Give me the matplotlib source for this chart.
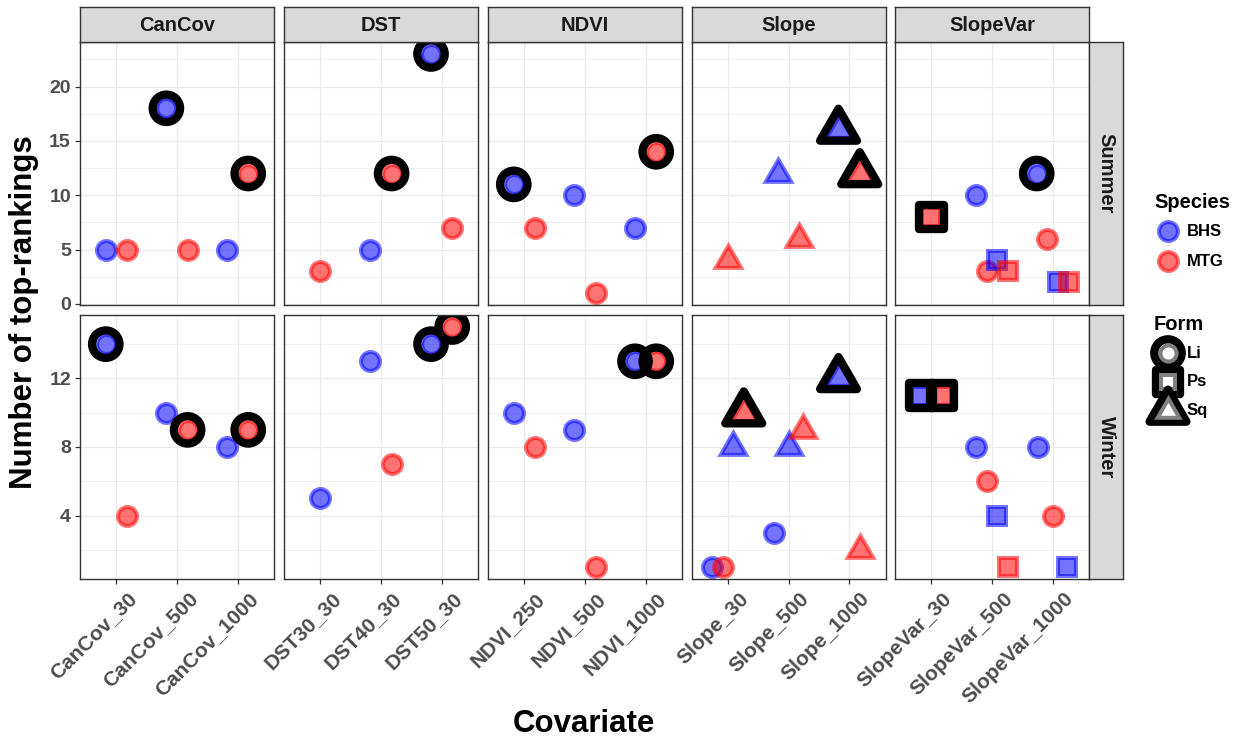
import numpy as np
import matplotlib.pyplot as plt
from matplotlib.path import Path
from matplotlib.transforms import ScaledTranslation

plt.rcParams['font.family'] = ['Liberation Sans', 'DejaVu Sans']
plt.rcParams['font.weight'] = 'bold'

# ---- data ----
groups = ['CanCov', 'DST', 'NDVI', 'Slope', 'SlopeVar']
covariates = [['CanCov_30', 'CanCov_500', 'CanCov_1000'],
              ['DST30_30', 'DST40_30', 'DST50_30'],
              ['NDVI_250', 'NDVI_500', 'NDVI_1000'],
              ['Slope_30', 'Slope_500', 'Slope_1000'],
              ['SlopeVar_30', 'SlopeVar_500', 'SlopeVar_1000']]
seasons = ['Summer', 'Winter']
species = ['BHS', 'MTG']
forms = ['Li', 'Ps', 'Sq']

summer_cov = ['CanCov_30', 'CanCov_30', 'CanCov_500', 'CanCov_500', 'CanCov_1000', 'CanCov_1000',
              'DST30_30', 'DST40_30', 'DST40_30', 'DST50_30', 'DST50_30',
              'NDVI_250', 'NDVI_250', 'NDVI_500', 'NDVI_500', 'NDVI_1000', 'NDVI_1000',
              'Slope_30', 'Slope_500', 'Slope_500', 'Slope_1000', 'Slope_1000',
              'SlopeVar_30', 'SlopeVar_500', 'SlopeVar_500', 'SlopeVar_500', 'SlopeVar_500',
              'SlopeVar_1000', 'SlopeVar_1000', 'SlopeVar_1000', 'SlopeVar_1000']
summer_sp = ['BHS', 'MTG', 'BHS', 'MTG', 'BHS', 'MTG',
             'MTG', 'BHS', 'MTG', 'BHS', 'MTG',
             'BHS', 'MTG', 'BHS', 'MTG', 'BHS', 'MTG',
             'MTG', 'BHS', 'MTG', 'BHS', 'MTG',
             'MTG', 'BHS', 'MTG', 'BHS', 'MTG',
             'BHS', 'MTG', 'BHS', 'MTG']
summer_form = ['Li'] * 17 + ['Sq'] * 5 + ['Ps', 'Li', 'Li', 'Ps', 'Ps', 'Li', 'Li', 'Ps', 'Ps']
summer_n = [5, 5, 18, 5, 5, 12,
            3, 5, 12, 23, 7,
            11, 7, 10, 1, 7, 14,
            4, 12, 6, 16, 12,
            8, 10, 3, 4, 3,
            12, 6, 2, 2]
summer_top = [0, 0, 1, 0, 0, 1,
              0, 0, 1, 1, 0,
              1, 0, 0, 0, 0, 1,
              0, 0, 0, 1, 1,
              1, 0, 0, 0, 0,
              1, 0, 0, 0]

winter_cov = ['CanCov_30', 'CanCov_30', 'CanCov_500', 'CanCov_500', 'CanCov_1000', 'CanCov_1000',
              'DST30_30', 'DST40_30', 'DST40_30', 'DST50_30', 'DST50_30',
              'NDVI_250', 'NDVI_250', 'NDVI_500', 'NDVI_500', 'NDVI_1000', 'NDVI_1000',
              'Slope_30', 'Slope_30', 'Slope_30', 'Slope_30', 'Slope_500', 'Slope_500', 'Slope_500',
              'Slope_1000', 'Slope_1000',
              'SlopeVar_30', 'SlopeVar_30', 'SlopeVar_500', 'SlopeVar_500', 'SlopeVar_500', 'SlopeVar_500',
              'SlopeVar_1000', 'SlopeVar_1000', 'SlopeVar_1000']
winter_sp = ['BHS', 'MTG', 'BHS', 'MTG', 'BHS', 'MTG',
             'BHS', 'BHS', 'MTG', 'BHS', 'MTG',
             'BHS', 'MTG', 'BHS', 'MTG', 'BHS', 'MTG',
             'BHS', 'MTG', 'BHS', 'MTG', 'BHS', 'BHS', 'MTG',
             'BHS', 'MTG',
             'BHS', 'MTG', 'BHS', 'MTG', 'BHS', 'MTG',
             'BHS', 'MTG', 'BHS']
winter_form = ['Li'] * 19 + ['Sq', 'Sq', 'Li', 'Sq', 'Sq', 'Sq', 'Sq',
                             'Ps', 'Ps', 'Li', 'Li', 'Ps', 'Ps', 'Li', 'Li', 'Ps']
winter_n = [14, 4, 10, 9, 8, 9,
            5, 13, 7, 14, 15,
            10, 8, 9, 1, 13, 13,
            1, 1, 8, 10, 3, 8, 9,
            12, 2,
            11, 11, 8, 6, 4, 1,
            8, 4, 1]
winter_top = [1, 0, 0, 1, 0, 1,
              0, 0, 0, 1, 1,
              0, 0, 0, 0, 1, 1,
              0, 0, 0, 1, 0, 0, 0,
              1, 0,
              1, 1, 0, 0, 0, 0,
              0, 0, 0]

# ---- styling ----
sp_col = {'BHS': (0, 0, 1, 0.55), 'MTG': (1, 0, 0, 0.55)}
tri = Path([(0, 1), (-0.866, -0.5), (0.866, -0.5), (0, 1)],
           [Path.MOVETO, Path.LINETO, Path.LINETO, Path.CLOSEPOLY])
mk = {'Li': 'o', 'Ps': 's', 'Sq': tri}
pt = 0.72  # points per pixel at dpi 100
size_pt = {'Li': 19 * pt, 'Ps': 17.5 * pt, 'Sq': 29.6 * pt}
big_pt = {'Li': 27.4 * pt, 'Ps': 24.3 * pt, 'Sq': 42.6 * pt}
lw_small = 4 * pt
lw_big = 8.3 * pt

W, H = 1250, 744
fig = plt.figure(figsize=(12.5, 7.44), dpi=100)


def box(x0, y0, x1, y1):
    return [x0 / W, 1 - y1 / H, (x1 - x0) / W, (y1 - y0) / H]


col_left = [80, 284, 488, 691.5, 895]
pw = 194
row_y = [(42, 305), (315, 579)]
data = {'Summer': (summer_cov, summer_sp, summer_form, summer_n, summer_top),
        'Winter': (winter_cov, winter_sp, winter_form, winter_n, winter_top)}
yticks = {'Summer': ([0, 5, 10, 15, 20], np.arange(2.5, 24, 5)),
          'Winter': ([4, 8, 12], [2, 6, 10, 14])}
dark = '#333333'


def dodge_x(cov, sp, fm, cats):
    # position_dodge(width = 0.7) by form/species group within a category
    xs = np.zeros(len(cov))
    for c in set(cov):
        idx = [i for i in range(len(cov)) if cov[i] == c]
        idx.sort(key=lambda i: (forms.index(fm[i]), species.index(sp[i])))
        n = len(idx)
        for k, i in enumerate(idx):
            xs[i] = cats.index(c) + 1 + (k - (n - 1) / 2) * 0.7 / n
    return xs


for r, season in enumerate(seasons):
    cov, sp, fm, nn, top = data[season]
    lo, hi = min(nn), max(nn)
    ylim = (lo - 0.05 * (hi - lo), hi + 0.05 * (hi - lo))
    for c, g in enumerate(groups):
        cats = covariates[c]
        y0, y1 = row_y[r]
        ax = fig.add_axes(box(col_left[c], y0, col_left[c] + pw, y1))
        ax.set_xlim(0.4, 3.6)
        ax.set_ylim(*ylim)
        ax.set_xticks([1, 2, 3])
        ax.set_yticks(yticks[season][0])
        ax.set_yticks(yticks[season][1], minor=True)
        ax.grid(which='major', color='#EBEBEB', lw=0.9)
        ax.grid(which='minor', axis='y', color='#EBEBEB', lw=0.5)
        ax.set_axisbelow(True)
        for s in ax.spines.values():
            s.set_color(dark)
            s.set_linewidth(1.0)
            s.set_zorder(5)
        ax.tick_params(which='minor', length=0)
        ax.tick_params(which='major', color=dark, width=0.9, length=3.5, pad=3,
                       labelsize=14, labelcolor='#4D4D4D')
        if c == 0:
            ax.set_yticklabels([str(v) for v in yticks[season][0]], fontweight='bold')
        else:
            ax.tick_params(axis='y', left=False, labelleft=False)
        if r == 1:
            ax.set_xticklabels(cats, rotation=45, ha='right', va='top',
                               rotation_mode='anchor', fontweight='bold', fontsize=15)
            off = ScaledTranslation(11 / 100, -1 / 100, fig.dpi_scale_trans)
            for lab in ax.get_xticklabels():
                lab.set_transform(lab.get_transform() + off)
        else:
            ax.tick_params(axis='x', bottom=False, labelbottom=False)

        sel = [i for i in range(len(cov)) if cov[i] in cats]
        scov = [cov[i] for i in sel]
        ssp = [sp[i] for i in sel]
        sfm = [fm[i] for i in sel]
        sn = [nn[i] for i in sel]
        stop = [top[i] for i in sel]
        xs = dodge_x(scov, ssp, sfm, cats)
        for i in range(len(sel)):
            ax.scatter(xs[i], sn[i], marker=mk[sfm[i]], s=size_pt[sfm[i]] ** 2,
                       facecolor=sp_col[ssp[i]], edgecolor=sp_col[ssp[i]],
                       linewidths=lw_small, joinstyle='miter', zorder=3)
        for i in range(len(sel)):
            if stop[i]:
                ax.scatter(xs[i], sn[i], marker=mk[sfm[i]], s=big_pt[sfm[i]] ** 2,
                           facecolor='none', edgecolor='black',
                           linewidths=lw_big, joinstyle='round', zorder=4)

        # top strips
        if r == 0:
            sax = fig.add_axes(box(col_left[c], 7, col_left[c] + pw, 42))
            sax.set_facecolor('#D9D9D9')
            sax.set_xticks([])
            sax.set_yticks([])
            for s in sax.spines.values():
                s.set_color(dark)
                s.set_linewidth(1.0)
            sax.text(0.5, 0.48, g, ha='center', va='center', fontsize=14.5,
                     fontweight='bold', color='#1A1A1A', transform=sax.transAxes)
        # right strips
        if c == len(groups) - 1:
            rax = fig.add_axes(box(1089, y0, 1123, y1))
            rax.set_facecolor('#D9D9D9')
            rax.set_xticks([])
            rax.set_yticks([])
            for s in rax.spines.values():
                s.set_color(dark)
                s.set_linewidth(1.0)
            rax.text(0.5, 0.5, season, ha='center', va='center', rotation=-90,
                     fontsize=14.5, fontweight='bold', color='#1A1A1A',
                     transform=rax.transAxes)

# axis titles
fig.text(24 / W, 1 - 312 / H, 'Number of top-rankings', rotation=90, ha='center',
         va='center', fontsize=22.5, fontweight='bold', color='black')
fig.text(584 / W, 1 - 724 / H, 'Covariate', ha='center', va='center',
         fontsize=22.5, fontweight='bold', color='black')

# legends drawn on an overlay in pixel units
lax = fig.add_axes([0, 0, 1, 1])
lax.set_xlim(0, W)
lax.set_ylim(H, 0)
lax.axis('off')
lax.text(1154, 202, 'Species', ha='left', va='center', fontsize=14.5, fontweight='bold')
for k, s in enumerate(species):
    yk = 231 + 30 * k
    lax.scatter(1168, yk, marker='o', s=size_pt['Li'] ** 2, facecolor=sp_col[s],
                edgecolor=sp_col[s], linewidths=lw_small)
    lax.text(1187, yk, s, ha='left', va='center', fontsize=12, fontweight='bold')
lax.text(1154, 324, 'Form', ha='left', va='center', fontsize=14.5, fontweight='bold')
for k, f in enumerate(forms):
    yk = 353 + 29 * k
    lax.scatter(1168, yk, marker=mk[f], s=big_pt[f] ** 2, facecolor='none',
                edgecolor='black', linewidths=lw_big, joinstyle='round', zorder=3 + 2 * k)
    lax.scatter(1168, yk, marker=mk[f], s=(size_pt[f] * 0.85) ** 2, facecolor='white',
                edgecolor='#7F7F7F', linewidths=lw_small, joinstyle='miter', zorder=4 + 2 * k)
    lax.text(1187, yk, f, ha='left', va='center', fontsize=12, fontweight='bold', zorder=10)

fig.savefig('out.png', dpi=100)
